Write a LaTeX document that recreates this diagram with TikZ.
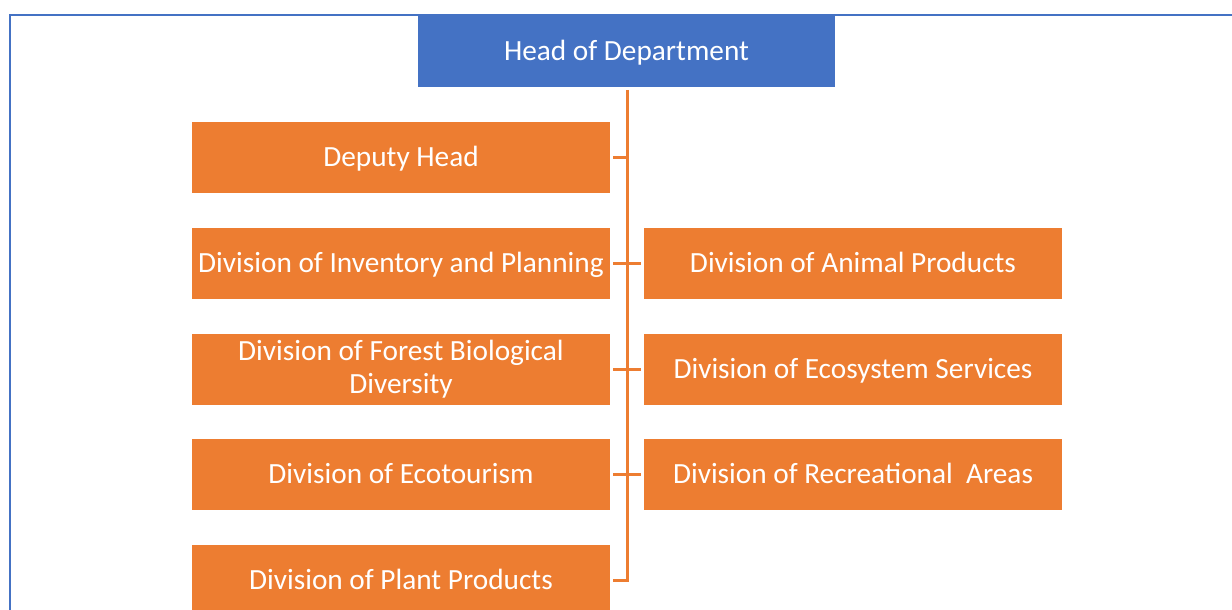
\documentclass[tikz,border=0pt]{standalone}
\usepackage{fontspec}
\setmainfont{Carlito}
\definecolor{hdblue}{HTML}{4472C4}
\definecolor{divorange}{HTML}{ED7D31}
\begin{document}
\begin{tikzpicture}[x=1pt,y=-1pt,
  boxbase/.style={fill=divorange,text=white,minimum width=418pt,minimum height=71pt,inner sep=0pt,align=center,font=\fontsize{29.3}{33}\selectfont},
  box/.style={boxbase,text height=24pt,text depth=6pt},
  headbox/.style={fill=hdblue,text=white,minimum width=417pt,minimum height=72pt,inner sep=0pt,text height=24pt,text depth=6pt,font=\fontsize{29.3}{33}\selectfont},
  conn/.style={draw=divorange,line width=3pt},
  frame/.style={draw=hdblue,line width=1.6pt}]
\clip (0,0) rectangle (1232,610);
\useasboundingbox (0,0) rectangle (1232,610);
\draw[frame] (10,611) -- (10,15) -- (1233,15);
\node[headbox] (head) at (626.5,51) {Head of Department};
\node[box] (dep) at (401,157.5) {Deputy Head};
\node[box] (inv) at (401,263.5) {Division of Inventory and Planning};
\node[boxbase] (bio) at (401,369) {Division of Forest Biological\\Diversity};
\node[box] (eco) at (401,474.5) {Division of Ecotourism};
\node[box] (pla) at (401,580.5) {Division of Plant Products};
\node[box] (ani) at (853,263.5) {Division of Animal Products};
\node[box] (ser) at (853,369) {Division of Ecosystem Services};
\node[box] (rec) at (853,474.5) {Division of Recreational~ Areas};
\coordinate (top) at (627,90);
\coordinate (bot) at (627,580.5);
\draw[conn] (top) -- (bot) -- ([xshift=3pt]pla.east |- bot);
\foreach \n in {dep,inv,bio,eco}
  \draw[conn,shorten <=3pt] (\n.east) -- (\n.east -| top);
\foreach \n in {ani,ser,rec}
  \draw[conn,shorten <=3pt] (\n.west) -- (\n.west -| top);
\end{tikzpicture}
\end{document}
